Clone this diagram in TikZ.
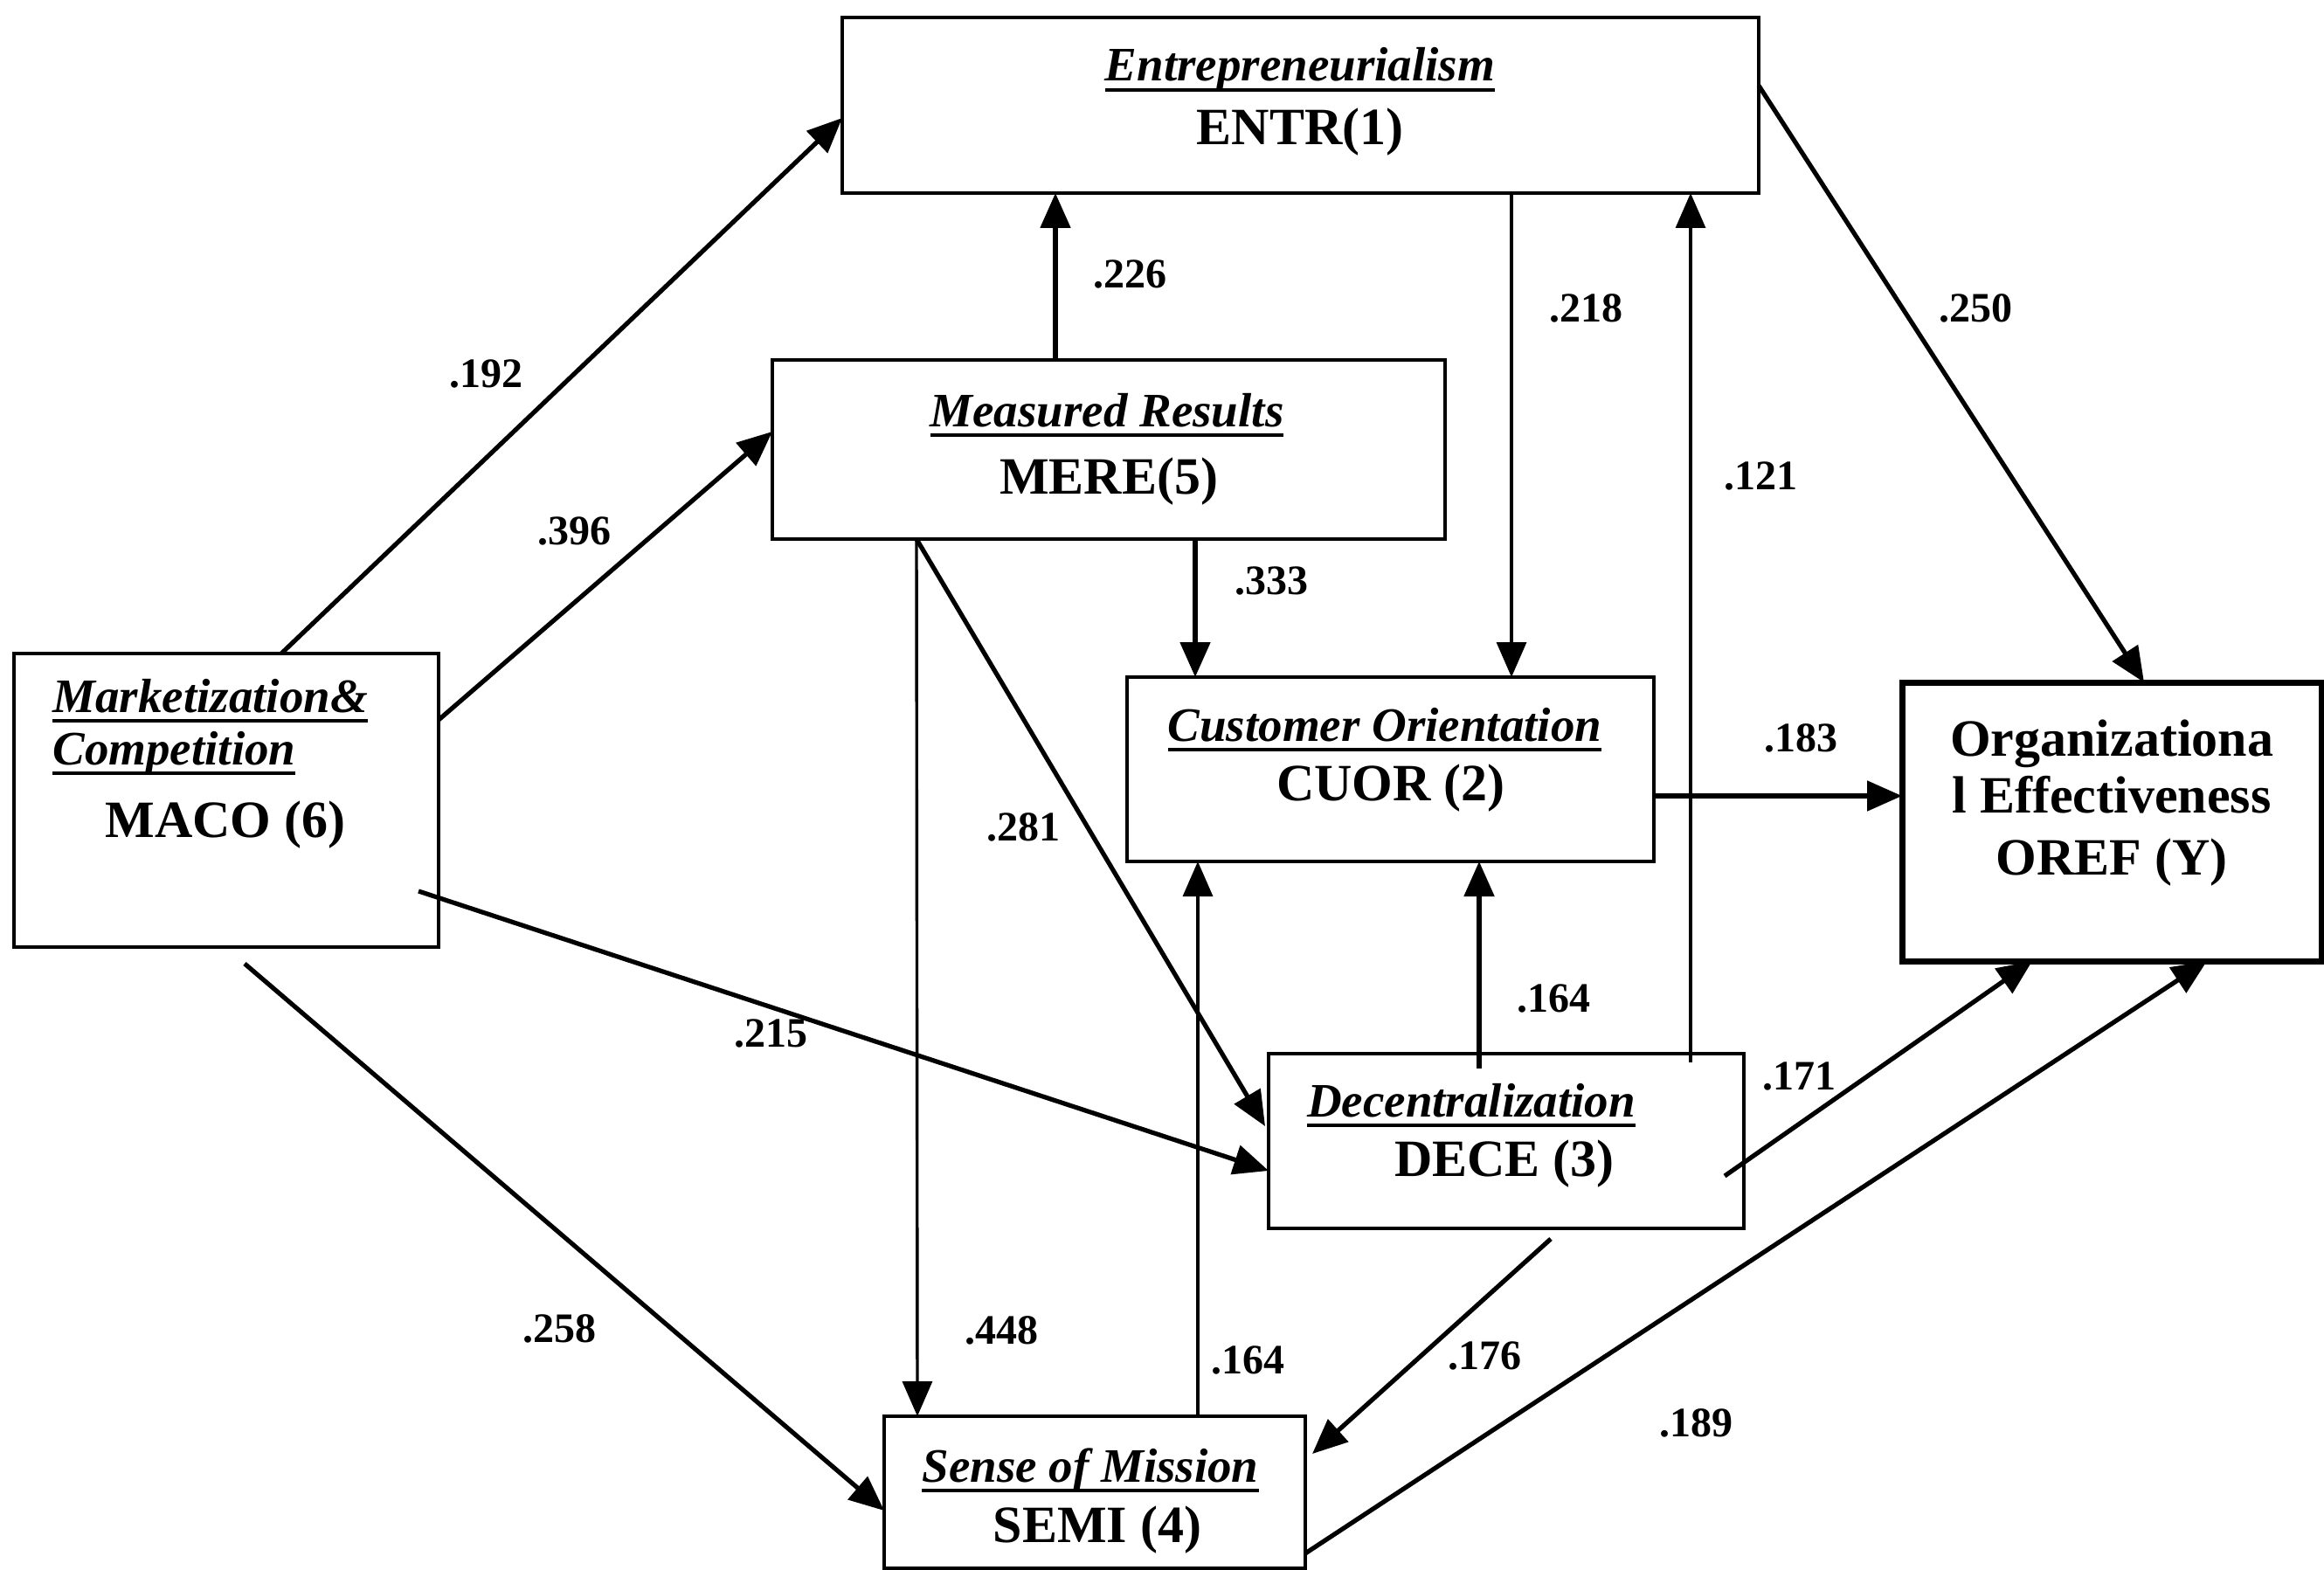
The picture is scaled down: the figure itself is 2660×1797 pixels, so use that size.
\documentclass[tikz,border=0pt]{standalone}
\usepackage{fontspec}
\setmainfont{Liberation Serif}
\usetikzlibrary{arrows.meta,calc}
\newcommand\ulin[1]{\setbox0=\hbox{#1}\rlap{\rule[-6pt]{\wd0}{2pt}}\box0}
\begin{document}
\begin{tikzpicture}[x=0.5pt,y=-0.5pt,
  box/.style={draw, line width=2pt, inner sep=0pt, outer sep=0pt},
  ttl/.style={font=\fontsize{27.5}{30}\selectfont\bfseries\itshape, anchor=base, inner sep=0pt},
  cod/.style={font=\fontsize{30}{34}\selectfont\bfseries, anchor=base, inner sep=0pt},
  lbl/.style={font=\fontsize{24}{26}\selectfont\bfseries, inner sep=0pt},
  arr/.style={-{Triangle[length=20pt,width=17pt]}, line width=2.6pt},
  tarr/.style={-{Triangle[length=20pt,width=17pt]}, line width=1.7pt}]
\useasboundingbox (0,0) rectangle (2660,1797);
% boxes
\node[box, minimum width=524.5pt, minimum height=100.5pt] (entr) at (1488.5,120.5) {};
\node[box, minimum width=385pt, minimum height=102.5pt] (mere) at (1269,514.5) {};
\node[box, minimum width=243pt, minimum height=168pt] (maco) at (259,916) {};
\node[box, minimum width=301.5pt, minimum height=105.5pt] (cuor) at (1591.5,880.5) {};
\node[box, line width=3.5pt, minimum width=240pt, minimum height=159.5pt] (oref) at (2417,940.5) {};
\node[box, minimum width=272pt, minimum height=100pt] (dece) at (1724,1306) {};
\node[box, minimum width=241pt, minimum height=87pt] (semi) at (1253,1708) {};
% texts
\node[ttl] (entrT) at (1488,93) {\ulin{Entrepreneurialism}};
\node[cod] (entrC) at (1488,166) {ENTR(1)};
\node[ttl] (mereT) at (1267,488) {\ulin{Measured Results}};
\node[cod] (mereC) at (1269,565) {MERE(5)};
\node[ttl, anchor=base west] (macoT1) at (60,815) {\ulin{Marketization\&}};
\node[ttl, anchor=base west] (macoT2) at (60,875) {\ulin{Competition}};
\node[cod] (macoC) at (258,958) {MACO (6)};
\node[ttl] (cuorT) at (1585,848) {\ulin{Customer Orientation}};
\node[cod] (cuorC) at (1592,916) {CUOR (2)};
\node[cod] (orefA) at (2417,865) {Organizationa};
\node[cod] (orefB) at (2417,930) {l Effectiveness};
\node[cod] (orefC) at (2417,1001) {OREF (Y)};
\node[ttl] (deceT) at (1684,1278) {\ulin{Decentralization}};
\node[cod] (deceC) at (1722,1346) {DECE (3)};
\node[ttl] (semiT) at (1248,1696) {\ulin{Sense of Mission}};
\node[cod] (semiC) at (1256,1765) {SEMI (4)};
% arrows
\draw[arr] ($(maco.north west)+(306,0)$) -- ($(entr.north west)+(0,115)$);
\draw[arr] ($(maco.north east)+(0,76)$) -- ($(mere.north west)+(0,82)$);
\draw[arr] ($(mere.north west)+(324,0)$) -- ($(entr.south west)+(244,0)$);
\draw[tarr] ($(entr.south west)+(766,0)$) -- ($(cuor.north west)+(440,0)$);
\draw[tarr] ($(dece.north west)+(483,10)$) -- ($(entr.south west)+(971,0)$);
\draw[arr] ($(entr.north east)+(0,78)$) -- ($(oref.north west)+(277,0)$);
\draw[arr] ($(mere.south west)+(484,0)$) -- ($(cuor.north west)+(78,0)$);
\draw[arr] ($(cuor.north east)+(0,136)$) -- ($(oref.north west)+(0,130)$);
\draw[arr] ($(mere.south west)+(165,0)$) -- ($(dece.north west)+(-4,83)$);
\draw[tarr] ($(mere.south west)+(165,0)$) -- ($(semi.north west)+(38,0)$);
\draw[arr] ($(maco.north east)+(-23,272)$) -- ($(dece.north west)+(0,134)$);
\draw[arr] ($(maco.south west)+(264,19)$) -- ($(semi.north west)+(0,108)$);
\draw[tarr] ($(semi.north west)+(359,0)$) -- ($(cuor.south west)+(81,0)$);
\draw[arr] ($(dece.north west)+(241,17)$) -- ($(cuor.south west)+(403,0)$);
\draw[arr] ($(dece.north east)+(-22,140)$) -- ($(oref.south west)+(149,0)$);
\draw[arr] ($(semi.north east)+(0,157)$) -- ($(oref.south west)+(349,0)$);
\draw[arr] ($(dece.south west)+(323,12)$) -- ($(semi.north east)+(8,43)$);
% labels
\node[lbl] (l192) at (556,428) {.192};
\node[lbl] (l396) at (657,608) {.396};
\node[lbl] (l226) at (1293,314) {.226};
\node[lbl] (l218) at (1815,353) {.218};
\node[lbl] (l250) at (2261,353) {.250};
\node[lbl] (l121) at (2015,545) {.121};
\node[lbl] (l333) at (1455,665) {.333};
\node[lbl] (l183) at (2061,845) {.183};
\node[lbl] (l281) at (1171,947) {.281};
\node[lbl] (l215) at (882,1183) {.215};
\node[lbl] (l164a) at (1778,1143) {.164};
\node[lbl] (l171) at (2059,1232) {.171};
\node[lbl] (l258) at (640,1521) {.258};
\node[lbl] (l448) at (1146,1523) {.448};
\node[lbl] (l164b) at (1428,1557) {.164};
\node[lbl] (l176) at (1699,1552) {.176};
\node[lbl] (l189) at (1941,1629) {.189};
\end{tikzpicture}
\end{document}
